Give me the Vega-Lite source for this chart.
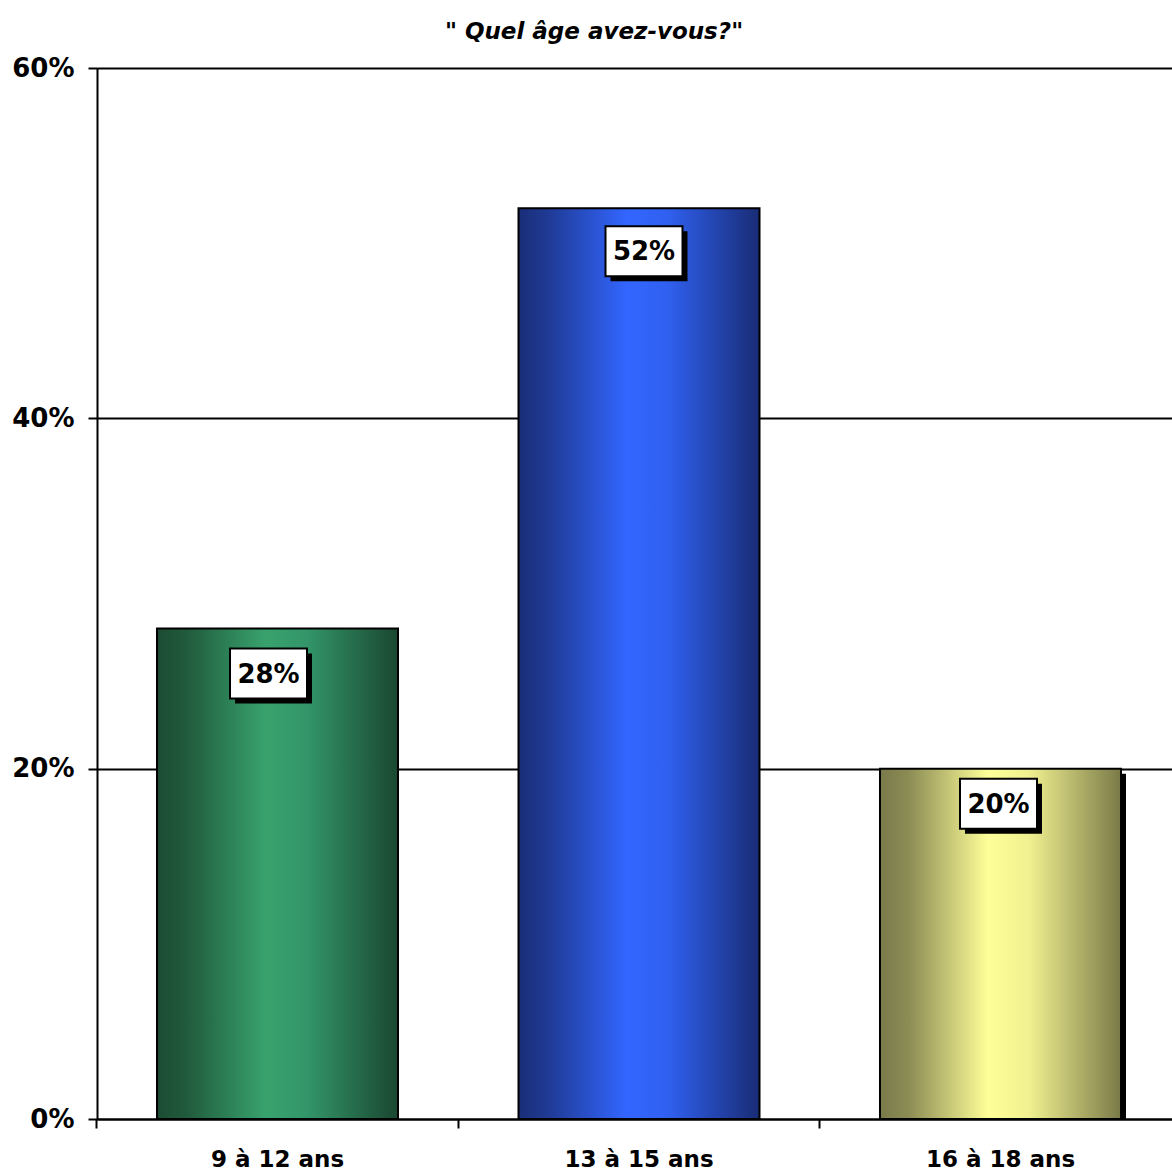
{
  "$schema": "https://vega.github.io/schema/vega-lite/v6.json",
  "width": 1084,
  "height": 1051,
  "autosize": {"type": "none"},
  "padding": {"left": 97, "top": 68, "right": 0, "bottom": 55},
  "background": "white",
  "config": {"view": {"stroke": null}, "font": "DejaVu Sans"},
  "title": {
    "text": "\" Quel âge avez-vous?\"",
    "font": "DejaVu Sans",
    "fontSize": 23,
    "fontWeight": "bold",
    "fontStyle": "italic",
    "color": "black",
    "anchor": "middle",
    "offset": 11,
    "dx": -45
  },
  "data": {
    "values": [
      {"age": "9 à 12 ans", "pct": 0.28},
      {"age": "13 à 15 ans", "pct": 0.52},
      {"age": "16 à 18 ans", "pct": 0.20}
    ]
  },
  "encoding": {
    "x": {"field": "age", "type": "nominal", "sort": null, "scale": {"domain": ["9 à 12 ans", "13 à 15 ans", "16 à 18 ans"], "paddingInner": 0.3333, "paddingOuter": 0.166}, "axis": null},
    "y": {"field": "pct", "type": "quantitative", "scale": {"domain": [0, 0.6]}, "axis": null}
  },
  "layer": [
    {
      "mark": {"type": "bar", "color": "black", "xOffset": 5, "yOffset": 5, "clip": true},
      "transform": [{"filter": "datum.age == '16 à 18 ans'"}],
      "encoding": {
        "x": {"field": "age", "type": "nominal", "sort": null, "scale": {"domain": ["9 à 12 ans", "13 à 15 ans", "16 à 18 ans"], "paddingInner": 0.3333, "paddingOuter": 0.166},
          "axis": {"orient": "bottom", "title": null, "labels": false, "domain": false, "ticks": true, "tickSize": 9, "tickWidth": 2, "tickColor": "black", "bandPosition": -0.249, "grid": false}}
      }
    },
    {
      "transform": [{"filter": "datum.age == '9 à 12 ans'"}],
      "mark": {"type": "bar", "stroke": "black", "strokeWidth": 2,
        "color": {"gradient": "linear", "x1": 0, "x2": 1, "y1": 0, "y2": 0,
          "stops": [{"offset": 0, "color": "#1c4c33"}, {"offset": 0.12, "color": "#205a3c"}, {"offset": 0.45, "color": "#38a26d"}, {"offset": 0.62, "color": "#33966a"}, {"offset": 1, "color": "#1a4730"}]}},
      "encoding": {
        "x": {"field": "age", "type": "nominal", "sort": null, "scale": {"domain": ["9 à 12 ans", "13 à 15 ans", "16 à 18 ans"], "paddingInner": 0.3333, "paddingOuter": 0.166},
          "axis": {"orient": "bottom", "title": null, "ticks": false, "domain": true, "domainColor": "black", "domainWidth": 2, "labelAngle": 0, "labelFont": "DejaVu Sans", "labelFontSize": 23, "labelFontWeight": "bold", "labelColor": "black", "labelPadding": 29, "grid": false}},
        "y": {"field": "pct", "type": "quantitative", "scale": {"domain": [0, 0.6]},
          "axis": {"orient": "left", "title": null, "values": [0, 0.2, 0.4, 0.6], "format": ".0%", "grid": true, "gridColor": "black", "gridWidth": 2, "gridOpacity": 1, "domain": true, "domainColor": "black", "domainWidth": 2, "ticks": true, "tickColor": "black", "tickWidth": 2, "tickSize": 9, "labelFont": "DejaVu Sans", "labelFontSize": 26, "labelFontWeight": "bold", "labelColor": "black", "labelPadding": 14}}
      }
    },
    {
      "transform": [{"filter": "datum.age == '9 à 12 ans'"}],
      "layer": [
        {"mark": {"type": "point", "shape": "M-1.54,-1L1.54,-1L1.54,1L-1.54,1Z", "size": 2500, "filled": true, "color": "black", "opacity": 1, "xOffset": -4, "yOffset": 50}},
        {"mark": {"type": "point", "shape": "M-1.54,-1L1.54,-1L1.54,1L-1.54,1Z", "size": 2500, "filled": true, "fill": "white", "stroke": "black", "strokeWidth": 2, "opacity": 1, "xOffset": -9, "yOffset": 45}},
        {"mark": {"type": "text", "font": "DejaVu Sans", "fontSize": 26, "fontWeight": "bold", "color": "black", "align": "center", "baseline": "middle", "xOffset": -9, "yOffset": 46},
          "encoding": {"text": {"field": "pct", "type": "quantitative", "format": ".0%"}}}
      ]
    },
    {
      "transform": [{"filter": "datum.age == '13 à 15 ans'"}],
      "layer": [
        {
          "mark": {"type": "bar", "stroke": "black", "strokeWidth": 2,
            "color": {"gradient": "linear", "x1": 0, "x2": 1, "y1": 0, "y2": 0,
              "stops": [{"offset": 0, "color": "#1a2e78"}, {"offset": 0.12, "color": "#1f3a94"}, {"offset": 0.45, "color": "#3366ff"}, {"offset": 0.62, "color": "#3060f0"}, {"offset": 1, "color": "#192c75"}]}}
        },
        {"mark": {"type": "point", "shape": "M-1.54,-1L1.54,-1L1.54,1L-1.54,1Z", "size": 2500, "filled": true, "color": "black", "opacity": 1, "xOffset": 10, "yOffset": 48}},
        {"mark": {"type": "point", "shape": "M-1.54,-1L1.54,-1L1.54,1L-1.54,1Z", "size": 2500, "filled": true, "fill": "white", "stroke": "black", "strokeWidth": 2, "opacity": 1, "xOffset": 5, "yOffset": 43}},
        {"mark": {"type": "text", "font": "DejaVu Sans", "fontSize": 26, "fontWeight": "bold", "color": "black", "align": "center", "baseline": "middle", "xOffset": 5, "yOffset": 44},
          "encoding": {"text": {"field": "pct", "type": "quantitative", "format": ".0%"}}}
      ]
    },
    {
      "transform": [{"filter": "datum.age == '16 à 18 ans'"}],
      "layer": [
        {
          "mark": {"type": "bar", "stroke": "black", "strokeWidth": 2,
            "color": {"gradient": "linear", "x1": 0, "x2": 1, "y1": 0, "y2": 0,
              "stops": [{"offset": 0, "color": "#7a7a4a"}, {"offset": 0.12, "color": "#8c8c55"}, {"offset": 0.45, "color": "#ffff99"}, {"offset": 0.62, "color": "#f0f090"}, {"offset": 1, "color": "#7a7a48"}]}}
        },
        {"mark": {"type": "point", "shape": "M-1.54,-1L1.54,-1L1.54,1L-1.54,1Z", "size": 2500, "filled": true, "color": "black", "opacity": 1, "xOffset": 3, "yOffset": 40}},
        {"mark": {"type": "point", "shape": "M-1.54,-1L1.54,-1L1.54,1L-1.54,1Z", "size": 2500, "filled": true, "fill": "white", "stroke": "black", "strokeWidth": 2, "opacity": 1, "xOffset": -2, "yOffset": 35}},
        {"mark": {"type": "text", "font": "DejaVu Sans", "fontSize": 26, "fontWeight": "bold", "color": "black", "align": "center", "baseline": "middle", "xOffset": -2, "yOffset": 36},
          "encoding": {"text": {"field": "pct", "type": "quantitative", "format": ".0%"}}}
      ]
    }
  ],
  "resolve": {"axis": {"x": "independent", "y": "independent"}}
}
